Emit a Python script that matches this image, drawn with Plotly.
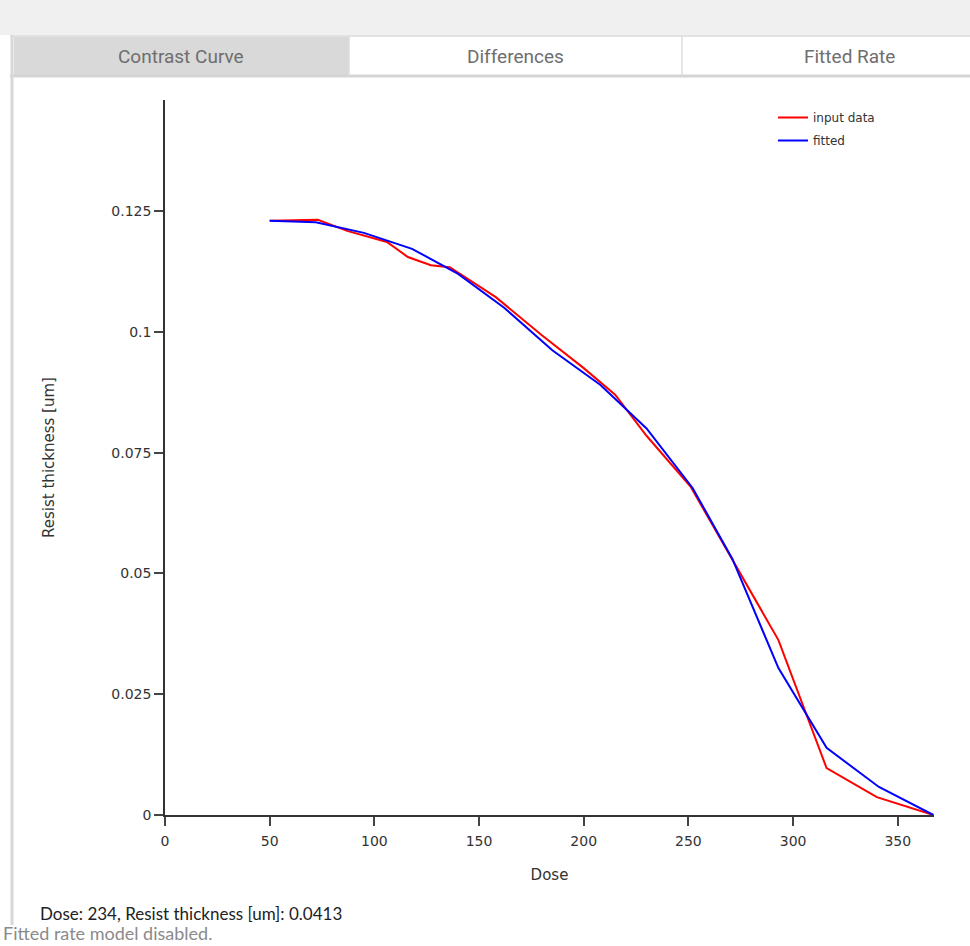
import plotly.graph_objects as go

# ---- data ----
input_dose = [50, 73, 87, 106, 116, 127, 136, 158, 180, 200, 215, 230, 251, 271, 293, 316, 340, 367]
input_thickness = [0.1230, 0.1232, 0.1209, 0.1186, 0.1155, 0.1138, 0.1134, 0.1072, 0.0993, 0.0925,
                   0.0870, 0.0785, 0.0680, 0.0530, 0.0362, 0.0097, 0.0037, 0.0]

fitted_dose = [50, 72, 95, 118, 140, 162, 185, 208, 230, 252, 271, 293, 316, 341, 367]
fitted_thickness = [0.1230, 0.1227, 0.1205, 0.1172, 0.1120, 0.1050, 0.0962, 0.0890, 0.0800,
                    0.0677, 0.0530, 0.0304, 0.0139, 0.0058, 0.0]

x_ticks = [0, 50, 100, 150, 200, 250, 300, 350]
y_ticks = [0, 0.025, 0.05, 0.075, 0.1, 0.125]
y_tick_labels = ["0", "0.025", "0.05", "0.075", "0.1", "0.125"]
tab_labels = ["Contrast Curve", "Differences", "Fitted Rate"]
status_line = "Dose: 234, Resist thickness [um]: 0.0413"
model_line = "Fitted rate model disabled."

# ---- layout geometry (pixels) ----
W, H = 970, 946
L, R, T, B = 165, 934, 100, 815


def px(x):
    return (x - L) / (R - L)


def py(y):
    return (B - y) / (B - T)


fig = go.Figure()
fig.add_trace(go.Scatter(x=input_dose, y=input_thickness, mode="lines", name="input data",
                         legendgroup="a", line=dict(color="#ff0000", width=2)))
fig.add_trace(go.Scatter(x=fitted_dose, y=fitted_thickness, mode="lines", name="fitted",
                         legendgroup="b", line=dict(color="#0000ff", width=2)))

shapes = [
    dict(type="rect", xref="paper", yref="paper", x0=px(0), x1=px(W), y0=py(0), y1=py(35),
         fillcolor="#f0f0f0", line=dict(width=0), layer="below"),
    dict(type="rect", xref="paper", yref="paper", x0=px(10), x1=px(W), y0=py(35), y1=py(77),
         fillcolor="#ffffff", line=dict(width=0), layer="below"),
    dict(type="rect", xref="paper", yref="paper", x0=px(14), x1=px(349), y0=py(37), y1=py(75),
         fillcolor="#d9d9d9", line=dict(width=0), layer="below"),
    dict(type="line", xref="paper", yref="paper", x0=px(10), x1=px(W), y0=py(36), y1=py(36),
         line=dict(color="#e2e2e2", width=2), layer="below"),
    dict(type="line", xref="paper", yref="paper", x0=px(10), x1=px(W), y0=py(76), y1=py(76),
         line=dict(color="#d4d4d4", width=3), layer="below"),
    dict(type="line", xref="paper", yref="paper", x0=px(349), x1=px(349), y0=py(36), y1=py(76),
         line=dict(color="#dddddd", width=1.5), layer="below"),
    dict(type="line", xref="paper", yref="paper", x0=px(682), x1=px(682), y0=py(36), y1=py(76),
         line=dict(color="#dddddd", width=1.5), layer="below"),
    dict(type="line", xref="paper", yref="paper", x0=px(12), x1=px(12), y0=py(35), y1=py(925),
         line=dict(color="#d8d8d8", width=3), layer="below"),
]

annotations = []
for label, cx in zip(tab_labels, [181, 515, 849]):
    annotations.append(dict(text=label, xref="paper", yref="paper", x=px(cx), y=py(57),
                            xanchor="center", yanchor="middle", showarrow=False,
                            font=dict(family="Roboto", size=19, color="#6e6e6e")))
annotations.append(dict(text=status_line, xref="paper", yref="paper", x=px(38), y=py(913),
                        xanchor="left", yanchor="middle", showarrow=False,
                        font=dict(family="Lato", size=17, color="#222222")))
annotations.append(dict(text=model_line, xref="paper", yref="paper", x=px(1), y=py(933),
                        xanchor="left", yanchor="middle", showarrow=False,
                        font=dict(family="Lato", size=18, color="#8a8a8a")))

axis_common = dict(showline=True, linecolor="#333333", linewidth=1.5, ticks="outside",
                   ticklen=9, tickwidth=1.5, tickcolor="#444444", showgrid=False,
                   zeroline=False, tickfont=dict(family="DejaVu Sans", size=14, color="#333333"))

fig.update_layout(
    width=W, height=H,
    margin=dict(l=L, r=W - R, t=T, b=H - B, pad=0),
    paper_bgcolor="#ffffff", plot_bgcolor="#ffffff",
    xaxis=dict(range=[0, 367.3], tickvals=x_ticks, ticklabelstandoff=3,
               title=dict(text="Dose", standoff=22,
                          font=dict(family="DejaVu Sans", size=15, color="#333333")),
               **axis_common),
    yaxis=dict(range=[0, 0.148], tickvals=y_ticks, ticktext=y_tick_labels,
               title=dict(text="Resist thickness [um]", standoff=53,
                          font=dict(family="DejaVu Sans", size=15, color="#333333")),
               **axis_common),
    legend=dict(x=px(773), y=py(103), xanchor="left", yanchor="top",
                bgcolor="rgba(255,255,255,0)", itemwidth=30, tracegroupgap=4,
                font=dict(family="DejaVu Sans", size=12, color="#333333")),
    shapes=shapes,
    annotations=annotations,
    showlegend=True,
)

fig.write_html("out.html", config={"displayModeBar": False},
               post_script="document.body.style.margin='0';document.body.style.overflow='hidden';")
